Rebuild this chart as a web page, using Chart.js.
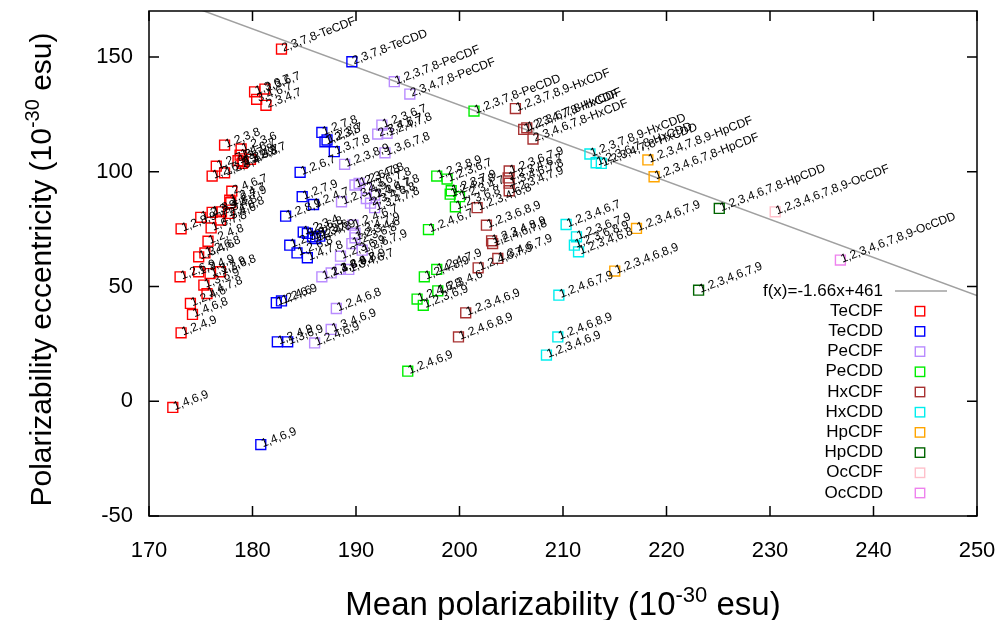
<!DOCTYPE html>
<html>
<head>
<meta charset="utf-8">
<script src="https://cdn.jsdelivr.net/npm/chart.js@4/dist/chart.umd.min.js"></script>
<style>
  html, body { margin: 0; padding: 0; background: #fff; }
  #wrap { width: 1007px; height: 620px; position: relative; }
</style>
</head>
<body>
<div id="wrap"><canvas id="c"></canvas></div>
<script>
// Axis ticks
const xTickValues = [170, 180, 190, 200, 210, 220, 230, 240, 250];
const yTickValues = [-50, 0, 50, 100, 150];

// Linear fit shown in the legend: f(x) = -1.66x + 461
const fitSlope = -1.66;
const fitIntercept = 461;
const fitRange = [170, 250];

// TeCDF
const teCDF_x = [182.8, 180.2, 181.2, 180.4, 181.3, 177.3, 178.9, 178.8, 179.1, 179.8, 179.0, 178.6, 176.5, 177.3, 176.1, 178.0, 177.8, 177.9, 175.0, 176.1, 177.0, 177.7, 176.9, 173.1, 176.0, 175.7, 175.4, 174.8, 173.0, 174.8, 175.9, 176.9, 175.3, 175.6, 174.0, 174.2, 173.1, 172.3];
const teCDF_y = [153.4, 134.8, 136.0, 131.5, 128.9, 111.6, 109.9, 107.2, 104.3, 105.4, 103.6, 104.8, 102.4, 99.5, 98.1, 91.5, 87.6, 86.5, 80.1, 82.3, 82.5, 81.8, 78.9, 75.1, 75.5, 69.7, 64.6, 62.9, 54.2, 56.4, 55.6, 56.4, 50.6, 46.9, 42.6, 37.8, 29.8, -2.7];
const teCDF_names = ['2,3,7,8-TeCDF', '1,3,6,7', '2,3,6,7', '3,4,6,7', '2,3,4,7', '1,2,3,8', '1,2,3,6', '1,4,6,7', '1,3,4,7', '1,2,3,7', '2,3,6,8', '1,3,7,8', '1,2,7,8', '1,2,3,4', '1,2,6,7', '2,4,6,7', '1,2,4,7', '1,2,7,9', '1,2,3,9', '1,3,4,8', '2,3,4,8', '2,4,6,8', '2,3,4,6', '1,2,8,9', '1,6,7,8', '1,2,4,8', '1,2,6,8', '1,3,4,6', '1,2,6,9', '1,3,4,9', '1,3,7,9', '1,3,6,8', '1,3,6,9', '1,4,7,8', '1,2,4,6', '1,4,6,8', '1,2,4,9', '1,4,6,9'];

// TeCDD
const teCDD_x = [189.6, 186.7, 187.2, 187.0, 187.9, 184.6, 184.8, 185.9, 183.2, 185.3, 185.8, 186.1, 186.5, 184.9, 183.6, 184.3, 185.3, 182.3, 182.8, 182.4, 183.4, 180.8];
const teCDD_y = [147.9, 117.1, 113.8, 113.0, 108.7, 99.7, 89.1, 85.7, 80.6, 73.1, 71.6, 70.9, 71.9, 73.7, 68.0, 64.6, 62.5, 42.9, 43.7, 25.9, 25.9, -18.9];
const teCDD_names = ['2,3,7,8-TeCDD', '1,2,7,8', '1,2,3,7', '1,2,3,8', '1,3,7,8', '1,2,6,7', '1,2,7,9', '1,2,4,7', '1,2,8,9', '1,3,6,8', '1,2,3,6', '1,2,4,8', '1,3,7,9', '1,2,3,4', '1,2,3,9', '1,2,6,8', '1,4,7,8', '1,2,4,6', '1,2,6,9', '1,2,4,9', '1,3,6,9', '1,4,6,9'];

// PeCDF
const peCDF_x = [193.7, 195.2, 192.5, 192.1, 193.0, 192.8, 188.9, 189.9, 190.3, 191.0, 191.8, 188.6, 191.0, 191.4, 191.8, 189.7, 189.9, 189.9, 189.6, 190.6, 188.5, 189.3, 188.5, 187.6, 186.7, 188.1, 187.6, 186.0];
const peCDF_y = [139.2, 133.8, 120.3, 116.4, 116.7, 108.2, 103.2, 94.2, 94.9, 92.8, 89.8, 86.9, 88.3, 86.3, 84.3, 76.7, 73.2, 71.2, 68.7, 65.8, 63.2, 57.4, 57.4, 55.9, 54.2, 40.4, 31.3, 25.4];
const peCDF_names = ['1,2,3,7,8-PeCDF', '2,3,4,7,8-PeCDF', '1,2,3,6,7', '2,3,4,6,7', '1,2,4,7,8', '1,3,6,7,8', '1,2,3,8,9', '1,2,3,4,8', '1,2,6,7,8', '2,3,6,7,8', '1,4,6,7,8', '1,2,3,4,9', '1,2,3,4,7', '2,3,4,6,8', '1,3,4,7,8', '1,2,4,6,7', '1,3,4,7,9', '1,2,3,4,6', '1,2,3,6,8', '1,2,6,7,9', '1,2,3,6,9', '1,3,4,6,7', '1,2,4,7,9', '1,3,4,6,8', '1,2,4,8,9', '1,2,4,6,8', '1,3,4,6,9', '1,2,4,6,9'];

// PeCDD
const peCDD_x = [201.4, 197.8, 198.8, 199.2, 199.1, 200.0, 199.6, 197.0, 197.8, 196.6, 197.9, 195.9, 196.5, 195.0];
const peCDD_y = [126.4, 98.1, 96.8, 91.7, 90.2, 89.1, 84.7, 74.8, 57.4, 54.2, 48.1, 44.5, 41.8, 13.1];
const peCDD_names = ['1,2,3,7,8-PeCDD', '1,2,3,8,9', '1,2,3,6,7', '1,2,3,7,9', '1,2,4,7,8', '1,2,3,4,7', '1,2,3,6,8', '1,2,4,6,7', '1,2,4,7,9', '1,2,4,8,9', '1,2,3,4,6', '1,2,4,6,8', '1,2,3,6,9', '1,2,4,6,9'];

// HxCDF
const hxCDF_x = [205.4, 206.2, 206.5, 207.1, 204.8, 204.7, 204.8, 204.8, 201.7, 202.6, 203.1, 203.2, 203.7, 201.8, 200.6, 199.9];
const hxCDF_y = [127.5, 118.4, 119.1, 114.2, 100.3, 97.3, 95.0, 91.7, 84.3, 76.7, 69.9, 68.7, 62.2, 58.1, 38.5, 28.0];
const hxCDF_names = ['1,2,3,7,8,9-HxCDF', '1,2,3,4,7,8-HxCDF', '1,2,3,6,7,8-HxCDF', '2,3,4,6,7,8-HxCDF', '1,2,3,6,7,9', '1,2,3,4,6,7', '1,3,4,6,7,8', '1,2,3,4,7,9', '1,2,3,4,6,8', '1,2,3,6,8,9', '1,2,3,4,8,9', '1,2,4,6,7,8', '1,3,4,6,7,9', '1,2,4,6,7,9', '1,2,3,4,6,9', '1,2,4,6,8,9'];

// HxCDD
const hxCDD_x = [212.6, 213.2, 213.7, 210.3, 211.3, 211.1, 211.5, 209.6, 209.5, 208.4];
const hxCDD_y = [107.7, 103.9, 103.6, 77.0, 71.6, 68.0, 65.1, 46.2, 28.0, 20.1];
const hxCDD_names = ['1,2,3,7,8,9-HxCDD', '1,2,3,6,7,8-HxCDD', '1,2,3,4,7,8-HxCDD', '1,2,3,4,6,7', '1,2,3,6,7,9', '1,2,3,6,8,9', '1,2,3,4,6,8', '1,2,4,6,7,9', '1,2,4,6,8,9', '1,2,3,4,6,9'];

// HpCDF
const hpCDF_x = [218.2, 218.8, 217.1, 215.0];
const hpCDF_y = [105.1, 97.8, 75.3, 56.7];
const hpCDF_names = ['1,2,3,4,7,8,9-HpCDF', '1,2,3,4,6,7,8-HpCDF', '1,2,3,4,6,7,9', '1,2,3,4,6,8,9'];

// HpCDD
const hpCDD_x = [225.1, 223.1];
const hpCDD_y = [84.0, 48.4];
const hpCDD_names = ['1,2,3,4,6,7,8-HpCDD', '1,2,3,4,6,7,9'];

// OcCDF / OcCDD
const ocCDF_x = [230.5];
const ocCDF_y = [82.5];
const ocCDF_names = ['1,2,3,4,6,7,8,9-OcCDF'];
const ocCDD_x = [236.8];
const ocCDD_y = [61.5];
const ocCDD_names = ['1,2,3,4,6,7,8,9-OcCDD'];

const groups = [
  { label: 'TeCDF', color: '#ff0000', xs: teCDF_x, ys: teCDF_y, names: teCDF_names },
  { label: 'TeCDD', color: '#0000ff', xs: teCDD_x, ys: teCDD_y, names: teCDD_names },
  { label: 'PeCDF', color: '#b98cff', xs: peCDF_x, ys: peCDF_y, names: peCDF_names },
  { label: 'PeCDD', color: '#00ee00', xs: peCDD_x, ys: peCDD_y, names: peCDD_names },
  { label: 'HxCDF', color: '#a83232', xs: hxCDF_x, ys: hxCDF_y, names: hxCDF_names },
  { label: 'HxCDD', color: '#00eeee', xs: hxCDD_x, ys: hxCDD_y, names: hxCDD_names },
  { label: 'HpCDF', color: '#ffa500', xs: hpCDF_x, ys: hpCDF_y, names: hpCDF_names },
  { label: 'HpCDD', color: '#006400', xs: hpCDD_x, ys: hpCDD_y, names: hpCDD_names },
  { label: 'OcCDF', color: '#ffc0cb', xs: ocCDF_x, ys: ocCDF_y, names: ocCDF_names },
  { label: 'OcCDD', color: '#ee82ee', xs: ocCDD_x, ys: ocCDD_y, names: ocCDD_names }
];

const FONT = "'Liberation Sans', Arial, sans-serif";

const datasets = groups.map((g, i) => ({
  type: 'scatter',
  label: g.label,
  data: g.xs.map((x, k) => ({ x: x, y: g.ys[k] })),
  names: g.names,
  borderColor: g.color,
  backgroundColor: 'rgba(0,0,0,0)',
  pointStyle: 'rect',
  pointRadius: 7,
  pointBorderWidth: 1.4,
  order: groups.length - i
}));

datasets.push({
  type: 'line',
  label: 'f(x)=-1.66x+461',
  isFit: true,
  data: fitRange.map(x => ({ x: x, y: fitSlope * x + fitIntercept })),
  borderColor: '#a0a0a0',
  borderWidth: 1.5,
  pointRadius: 0,
  fill: false,
  order: 100
});

// Rotated congener names next to each marker
const pointLabels = {
  id: 'pointLabels',
  afterDatasetsDraw(chart) {
    const ctx = chart.ctx, a = chart.chartArea;
    ctx.save();
    ctx.beginPath();
    ctx.rect(a.left, a.top, a.right - a.left, a.bottom - a.top);
    ctx.clip();
    ctx.font = '12px ' + FONT;
    ctx.fillStyle = '#000';
    ctx.textAlign = 'left';
    ctx.textBaseline = 'middle';
    chart.data.datasets.forEach((ds, i) => {
      if (!ds.names) return;
      const meta = chart.getDatasetMeta(i);
      meta.data.forEach((el, k) => {
        ctx.save();
        ctx.translate(el.x, el.y);
        ctx.rotate(-21 * Math.PI / 180);
        ctx.fillText(ds.names[k], 1, 0);
        ctx.restore();
      });
    });
    ctx.restore();
  }
};

// Frame, inward ticks on all sides, legend and axis titles
const decorations = {
  id: 'decorations',
  afterDraw(chart) {
    const ctx = chart.ctx, a = chart.chartArea;
    const xs = chart.scales.x, ys = chart.scales.y;
    ctx.save();
    ctx.strokeStyle = '#000';
    ctx.lineWidth = 1.5;
    ctx.strokeRect(a.left, a.top, a.right - a.left, a.bottom - a.top);
    const tl = 10;
    ctx.beginPath();
    xTickValues.forEach(v => {
      const px = xs.getPixelForValue(v);
      ctx.moveTo(px, a.bottom); ctx.lineTo(px, a.bottom - tl);
      ctx.moveTo(px, a.top); ctx.lineTo(px, a.top + tl);
    });
    yTickValues.forEach(v => {
      const py = ys.getPixelForValue(v);
      ctx.moveTo(a.left, py); ctx.lineTo(a.left + tl, py);
      ctx.moveTo(a.right, py); ctx.lineTo(a.right - tl, py);
    });
    ctx.stroke();

    // Legend
    const textRight = 883, symX = 920;
    let y = 291;
    ctx.font = '17px ' + FONT;
    ctx.fillStyle = '#000';
    ctx.textAlign = 'right';
    ctx.textBaseline = 'middle';
    const fit = chart.data.datasets.find(d => d.isFit);
    ctx.fillText(fit.label, textRight, y);
    ctx.strokeStyle = fit.borderColor;
    ctx.lineWidth = 1.5;
    ctx.beginPath(); ctx.moveTo(895, y); ctx.lineTo(947, y); ctx.stroke();
    y += 20.2;
    chart.data.datasets.forEach(ds => {
      if (!ds.names) return;
      ctx.fillStyle = '#000';
      ctx.fillText(ds.label, textRight, y);
      ctx.strokeStyle = ds.borderColor;
      ctx.lineWidth = 1.4;
      ctx.strokeRect(symX - 4.7, y - 4.7, 9.4, 9.4);
      y += 20.2;
    });

    // Axis titles with superscripted exponent
    const drawRich = (parts, cx, cy, size) => {
      const big = size + 'px ' + FONT, small = Math.round(size * 0.66) + 'px ' + FONT;
      let total = 0;
      parts.forEach(p => { ctx.font = p.sup ? small : big; p.w = ctx.measureText(p.t).width; total += p.w; });
      let x = cx - total / 2;
      ctx.textAlign = 'left';
      ctx.textBaseline = 'alphabetic';
      ctx.fillStyle = '#000';
      parts.forEach(p => {
        ctx.font = p.sup ? small : big;
        ctx.fillText(p.t, x, p.sup ? cy - size * 0.4 : cy);
        x += p.w;
      });
    };
    drawRich([{ t: 'Mean polarizability (10' }, { t: '-30', sup: true }, { t: ' esu)' }], (a.left + a.right) / 2, 615, 33);
    ctx.save();
    ctx.translate(51, (a.top + a.bottom) / 2 + 6);
    ctx.rotate(-Math.PI / 2);
    drawRich([{ t: 'Polarizability eccentricity (10' }, { t: '-30', sup: true }, { t: ' esu)' }], 0, 0, 30);
    ctx.restore();
    ctx.restore();
  }
};

new Chart(document.getElementById('c'), {
  data: { datasets: datasets },
  options: {
    responsive: true,
    maintainAspectRatio: false,
    animation: false,
    layout: { padding: { top: 11, right: 30, left: 0, bottom: 0 } },
    plugins: { legend: { display: false }, tooltip: { enabled: false } },
    scales: {
      x: {
        type: 'linear', min: 170, max: 250,
        grid: { display: false, drawTicks: false },
        border: { display: false },
        afterBuildTicks: s => { s.ticks = xTickValues.map(v => ({ value: v })); },
        afterFit: s => { s.height = 104; s.paddingLeft = 0; s.paddingRight = 0; },
        ticks: { color: '#000', padding: 22, font: { family: FONT, size: 22 }, maxRotation: 0 }
      },
      y: {
        type: 'linear', min: -50, max: 170,
        grid: { display: false, drawTicks: false },
        border: { display: false },
        afterBuildTicks: s => { s.ticks = yTickValues.map(v => ({ value: v })); },
        afterFit: s => { s.width = 149; s.paddingTop = 0; s.paddingBottom = 0; },
        ticks: { color: '#000', padding: 16, font: { family: FONT, size: 22 } }
      }
    }
  },
  plugins: [pointLabels, decorations]
});
</script>
</body>
</html>
